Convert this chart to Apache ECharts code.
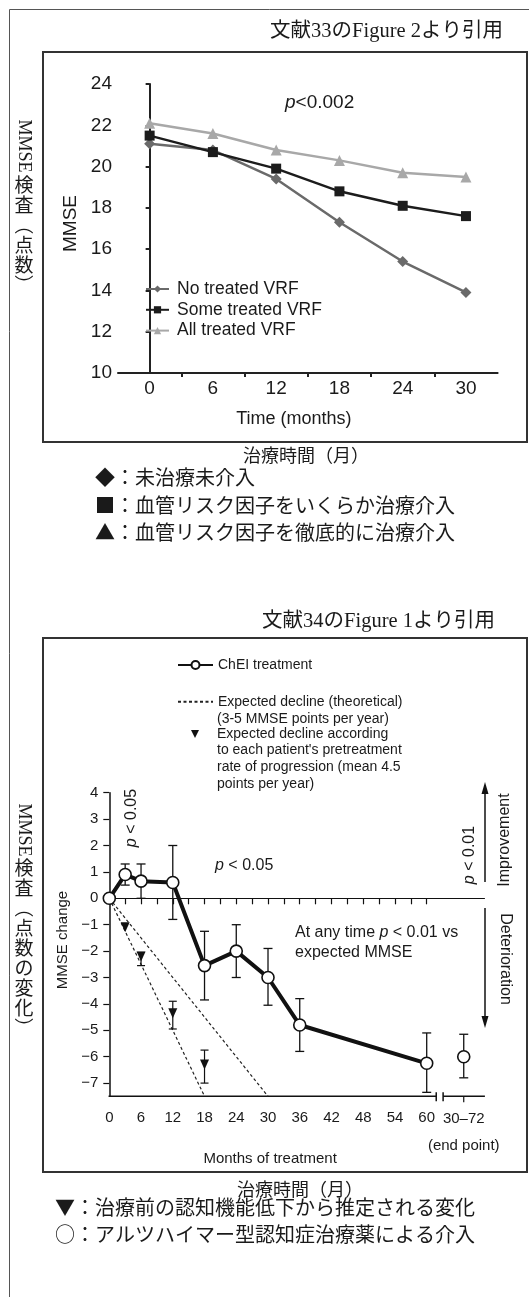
<!DOCTYPE html>
<html lang="ja"><head><meta charset="utf-8"><title>MMSE</title>
<script src="https://cdn.jsdelivr.net/npm/echarts@6.0.0/dist/echarts.min.js"></script>
<style>html,body{margin:0;padding:0;background:#fff;}#chart{width:529px;height:1297px;}</style>
</head><body><div id="chart"></div>
<script>
// ---------- Figure A (文献33 Figure 2) ----------
const monthsA = [0, 6, 12, 18, 24, 30];
const noTreatedVRF = [21.1, 20.8, 19.4, 17.3, 15.4, 13.9];
const someTreatedVRF = [21.5, 20.7, 19.9, 18.8, 18.1, 17.6];
const allTreatedVRF = [22.1, 21.6, 20.8, 20.3, 19.7, 19.5];
const xLabelsA = [0, 6, 12, 18, 24, 30];
const xMinorTicksA = [3, 9, 15, 21, 27];

// ---------- Figure B (文献34 Figure 1) ----------
const monthsB = [0, 3, 6, 12, 18, 24, 30, 36, 60];
const cheiMean = [0, 0.9, 0.65, 0.6, -2.55, -2.0, -3.0, -4.8, -6.25];
const cheiHigh = [null, 1.3, 1.3, 2.0, -1.25, -1.0, -1.9, -3.8, -5.1];
const cheiLow = [null, 0.5, 0.0, -0.8, -3.85, -3.0, -4.05, -5.8, -7.35];
const endPointLabel = ['30–72', '(end point)'];
const endPointMean = [-6.0];
const endPointHigh = [-5.15];
const endPointLow = [-6.8];
const expectedMonths = [3, 6, 12, 18];
const expectedMean = [-1.1, -2.2, -4.35, -6.3];
const expectedHigh = [null, -2.05, -3.9, -5.75];
const expectedLow = [null, -2.55, -4.95, -7.0];
const theoretical5perYear = [[0, 0], [18, -7.5]];
const theoretical3perYear = [[0, 0], [30, -7.5]];
const xLabelsB = [0, 6, 12, 18, 24, 30, 36, 42, 48, 54, 60];
const xTicksB = [0, 3, 6, 9, 12, 15, 18, 21, 24, 27, 30, 33, 36, 39, 42, 45, 48, 51, 54, 57, 60];
const yLabelsB = [-7, -6, -5, -4, -3, -2, -1, 0, 1, 2, 3, 4];

// ---------- layout constants ----------
const END_X = 67;            // axis slot used for the "30–72 (end point)" category
const X_MAX_B = 71, Y_MIN_B = -7.5, Y_MAX_B = 4;
const BREAK_B = [61.8, 63.1];
const SANS = "'Liberation Sans', Arial, Helvetica, sans-serif";
const JP = "'Liberation Serif', 'Noto Sans CJK JP', serif";
const CJK = "'Noto Sans CJK JP', sans-serif";
const INK = '#1a1a1a';

const chart = echarts.init(document.getElementById('chart'), null, {renderer: 'canvas', width: 529, height: 1297});

function errorBarRender(capHalf, width) {
  return function (params, api) {
    const x = api.value(0), lo = api.value(1), hi = api.value(2);
    const p1 = api.coord([x, hi]), p2 = api.coord([x, lo]);
    const st = {stroke: '#111', lineWidth: width, fill: null};
    return {type: 'group', children: [
      {type: 'line', shape: {x1: p1[0], y1: p1[1], x2: p2[0], y2: p2[1]}, style: st},
      {type: 'line', shape: {x1: p1[0] - capHalf, y1: p1[1], x2: p1[0] + capHalf, y2: p1[1]}, style: st},
      {type: 'line', shape: {x1: p2[0] - capHalf, y1: p2[1], x2: p2[0] + capHalf, y2: p2[1]}, style: st}
    ]};
  };
}

function txt(x, y, text, size, family, opts) {
  opts = opts || {};
  const style = {
    text: text, fill: opts.fill || INK, fontSize: size, fontFamily: family,
    align: opts.align || 'left', textAlign: opts.align || 'left',
    verticalAlign: opts.valign || 'middle', textVerticalAlign: opts.valign || 'middle'
  };
  if (opts.lineHeight) style.lineHeight = opts.lineHeight;
  if (opts.rich) style.rich = opts.rich;
  return {type: 'text', x: x, y: y, rotation: opts.rot || 0, silent: true, z: 10, style: style};
}
const italicP = (size) => ({i: {fontStyle: 'italic', fontSize: size, fontFamily: SANS, fill: INK}});

const errB = monthsB.map((m, i) => cheiHigh[i] == null ? null : [m, cheiLow[i], cheiHigh[i]]).filter(Boolean)
  .concat([[END_X, endPointLow[0], endPointHigh[0]]]);
const errExp = expectedMonths.map((m, i) => expectedHigh[i] == null ? null : [m, expectedLow[i], expectedHigh[i]]).filter(Boolean);

const graphics = [
  // frames
  {type: 'polyline', silent: true, shape: {points: [[9.5, 1297], [9.5, 9.5], [529, 9.5]]}, style: {stroke: '#555', lineWidth: 1, fill: null}},
  {type: 'rect', silent: true, shape: {x: 43, y: 52, width: 484, height: 390}, style: {stroke: '#333', lineWidth: 2, fill: null}},
  {type: 'rect', silent: true, shape: {x: 43, y: 638, width: 484, height: 534}, style: {stroke: '#333', lineWidth: 2, fill: null}},
  // titles & captions
  txt(503, 32, '文献33のFigure 2より引用', 20.5, JP, {align: 'right'}),
  txt(495, 622, '文献34のFigure 1より引用', 20.5, JP, {align: 'right'}),
  txt(306, 455, '治療時間（月）', 18, CJK, {align: 'center'}),
  txt(300, 1189, '治療時間（月）', 18, CJK, {align: 'center'}),
  txt(95, 477, '◆：未治療未介入', 20, CJK),
  txt(95, 505, '■：血管リスク因子をいくらか治療介入', 20, CJK),
  txt(95, 532, '▲：血管リスク因子を徹底的に治療介入', 20, CJK),
  txt(55, 1207, '▼：治療前の認知機能低下から推定される変化', 20, CJK),
  txt(55, 1234, '○：アルツハイマー型認知症治療薬による介入', 20, CJK),
  // vertical side labels
  txt(24, 146, 'MMSE', 18, JP, {align: 'center', rot: -Math.PI / 2}),
  txt(24, 175, '検\n査\n︵\n点\n数\n︶', 19, CJK, {align: 'center', valign: 'top', lineHeight: 20}),
  txt(24, 830, 'MMSE', 18, JP, {align: 'center', rot: -Math.PI / 2}),
  txt(24, 858, '検\n査\n︵\n点\n数\nの\n変\n化\n︶', 19, CJK, {align: 'center', valign: 'top', lineHeight: 20}),
  // Figure A annotation
  txt(285, 103, '{i|p}<0.002', 19, SANS, {rich: italicP(19)}),
  // Figure B annotations
  txt(217, 719, '(3-5 MMSE points per year)', 14, SANS),
  txt(217, 750.5, "to each patient's pretreatment", 14, SANS),
  txt(217, 767, 'rate of progression (mean 4.5', 14, SANS),
  txt(217, 784, 'points per year)', 14, SANS),
  txt(132, 818, '{i|p} < 0.05', 16, SANS, {align: 'center', rot: Math.PI / 2, rich: italicP(16)}),
  txt(215, 866, '{i|p} < 0.05', 16, SANS, {rich: italicP(16)}),
  txt(295, 933, 'At any time {i|p} < 0.01 vs', 16, SANS, {rich: italicP(16)}),
  txt(295, 953, 'expected MMSE', 16, SANS),
  txt(470, 855, '{i|p} < 0.01', 16, SANS, {align: 'center', rot: Math.PI / 2, rich: italicP(16)}),
  txt(505, 840, 'Improvement', 16, SANS, {align: 'center', rot: Math.PI / 2}),
  txt(505, 959, 'Deterioration', 16, SANS, {align: 'center', rot: -Math.PI / 2}),
  {type: 'line', silent: true, shape: {x1: 485, y1: 882, x2: 485, y2: 792}, style: {stroke: '#111', lineWidth: 1.5}},
  {type: 'polygon', silent: true, shape: {points: [[485, 782], [481.5, 794], [488.5, 794]]}, style: {fill: '#111'}},
  {type: 'line', silent: true, shape: {x1: 485, y1: 908, x2: 485, y2: 1017}, style: {stroke: '#111', lineWidth: 1.5}},
  {type: 'polygon', silent: true, shape: {points: [[485, 1028], [481.5, 1016], [488.5, 1016]]}, style: {fill: '#111'}}
];

const option = {
  animation: false,
  backgroundColor: '#fff',
  textStyle: {fontFamily: SANS, color: INK},
  grid: [
    {left: 118, top: 84, width: 379.6, height: 289, containLabel: false},
    {left: 109.3, top: 792.7, width: 375.6, height: 303.6, containLabel: false}
  ],
  legend: [
    {data: ['No treated VRF', 'Some treated VRF', 'All treated VRF'], orient: 'vertical', left: 145, top: 280, padding: 0,
     itemWidth: 23, itemHeight: 9, itemGap: 2.8, selectedMode: false,
     textStyle: {fontSize: 17.5, lineHeight: 18, color: INK, fontFamily: SANS, padding: [0, 0, 0, 3]}},
    {data: ['ChEI treatment'], left: 177, top: 658, padding: 0, itemWidth: 35, itemHeight: 10, selectedMode: false,
     textStyle: {fontSize: 14, lineHeight: 14, color: INK, fontFamily: SANS}},
    {data: ['Expected decline (theoretical)'], left: 177, top: 694.7, padding: 0, itemWidth: 35, itemHeight: 10, selectedMode: false,
     itemStyle: {opacity: 0}, textStyle: {fontSize: 14, lineHeight: 14, color: INK, fontFamily: SANS}},
    {data: ['Expected decline according'], left: 191, top: 727, padding: 0, itemWidth: 8, itemHeight: 8, selectedMode: false,
     textStyle: {fontSize: 14, lineHeight: 14, color: INK, fontFamily: SANS, padding: [0, 0, 0, 13]}}
  ],
  xAxis: [
    {gridIndex: 0, type: 'value', min: -3, max: 33,
     name: 'Time (months)', nameLocation: 'middle', nameGap: 37,
     nameTextStyle: {fontSize: 18, color: INK, fontFamily: SANS, padding: [0, 28, 0, 0]},
     axisLine: {lineStyle: {color: '#222', width: 2}},
     axisTick: {customValues: xMinorTicksA, length: 4, lineStyle: {color: '#222', width: 2}},
     axisLabel: {customValues: xLabelsA, fontSize: 19, color: INK, margin: 6},
     splitLine: {show: false}},
    {gridIndex: 1, type: 'value', min: 0, max: X_MAX_B,
     name: 'Months of treatment', nameLocation: 'middle', nameGap: 55,
     nameTextStyle: {fontSize: 15, color: INK, fontFamily: SANS, padding: [0, 54, 0, 0]},
     axisLine: {show: false},
     axisTick: {show: true, customValues: xTicksB, length: 6, lineStyle: {color: '#111', width: 1.2}},
     axisLabel: {customValues: xLabelsB, fontSize: 15, color: INK, margin: 14},
     splitLine: {show: false}}
  ],
  yAxis: [
    {gridIndex: 0, type: 'value', min: 10, max: 24, interval: 2,
     name: 'MMSE', nameLocation: 'middle', nameGap: 36,
     nameTextStyle: {fontSize: 19, color: INK, fontFamily: SANS, padding: [0, 0, 0, 10]},
     axisLine: {show: true, lineStyle: {color: '#222', width: 2}},
     axisTick: {show: true, length: 4, lineStyle: {color: '#222', width: 2}},
     axisLabel: {fontSize: 19, color: INK, margin: 6},
     splitLine: {show: false}},
    {gridIndex: 1, type: 'value', min: Y_MIN_B, max: Y_MAX_B,
     name: 'MMSE change', nameLocation: 'middle', nameGap: 33,
     nameTextStyle: {fontSize: 15, color: INK, fontFamily: SANS, padding: [0, 0, 0, 9]},
     axisLine: {show: true, lineStyle: {color: '#111', width: 1.5}},
     axisTick: {show: true, customValues: yLabelsB, length: 6, lineStyle: {color: '#111', width: 1.2}},
     axisLabel: {customValues: yLabelsB, fontSize: 15, color: INK, margin: 11,
       formatter: v => v < 0 ? '\u2212' + Math.abs(v) : String(v)},
     splitLine: {show: false}}
  ],
  series: [
    // ----- Figure A -----
    {type: 'line', name: 'All treated VRF', xAxisIndex: 0, yAxisIndex: 0,
     data: monthsA.map((m, i) => [m, allTreatedVRF[i]]),
     symbol: 'triangle', symbolSize: 11, lineStyle: {color: '#a8a8a8', width: 2.5}, itemStyle: {color: '#a8a8a8'}, z: 2},
    {type: 'line', name: 'No treated VRF', xAxisIndex: 0, yAxisIndex: 0,
     data: monthsA.map((m, i) => [m, noTreatedVRF[i]]),
     symbol: 'diamond', symbolSize: 11, lineStyle: {color: '#6a6a6a', width: 2.5}, itemStyle: {color: '#6a6a6a'}, z: 3},
    {type: 'line', name: 'Some treated VRF', xAxisIndex: 0, yAxisIndex: 0,
     data: monthsA.map((m, i) => [m, someTreatedVRF[i]]),
     symbol: 'rect', symbolSize: 10, lineStyle: {color: '#1c1c1c', width: 2.5}, itemStyle: {color: '#1c1c1c'}, z: 4},
    // ----- Figure B -----
    {type: 'custom', name: 'axisB', xAxisIndex: 1, yAxisIndex: 1, silent: true, clip: false, z: 1,
     data: [[END_X, Y_MIN_B]],
     renderItem: function (params, api) {
       const a = api.coord([0, Y_MIN_B]), b = api.coord([BREAK_B[0], Y_MIN_B]);
       const c = api.coord([BREAK_B[1], Y_MIN_B]), d = api.coord([X_MAX_B, Y_MIN_B]);
       const e = api.coord([api.value(0), Y_MIN_B]);
       const st = {stroke: '#111', lineWidth: 1.5};
       const ts = (t, y) => ({type: 'text', x: e[0], y: y, style: {text: t, fill: INK, fontSize: 15, fontFamily: SANS,
         align: 'center', textAlign: 'center', verticalAlign: 'middle', textVerticalAlign: 'middle'}});
       return {type: 'group', children: [
         {type: 'line', shape: {x1: a[0] - 0.75, y1: a[1], x2: b[0], y2: b[1]}, style: st},
         {type: 'line', shape: {x1: c[0], y1: c[1], x2: d[0], y2: d[1]}, style: st},
         {type: 'line', shape: {x1: b[0], y1: b[1] - 4, x2: b[0], y2: b[1] + 5}, style: st},
         {type: 'line', shape: {x1: c[0], y1: c[1] - 4, x2: c[0], y2: c[1] + 5}, style: st},
         {type: 'line', shape: {x1: e[0], y1: e[1], x2: e[0], y2: e[1] + 6}, style: {stroke: '#111', lineWidth: 1.2}},
         ts(endPointLabel[0], e[1] + 23),
         ts(endPointLabel[1], e[1] + 50)
       ]};
     }},
    {type: 'line', name: 'Expected decline (theoretical)', xAxisIndex: 1, yAxisIndex: 1,
     data: theoretical5perYear, symbol: 'none', lineStyle: {color: '#222', width: 1.2, type: [3, 2.5]}, itemStyle: {color: '#222'}, z: 2},
    {type: 'line', name: 'Expected decline (theoretical)', xAxisIndex: 1, yAxisIndex: 1,
     data: theoretical3perYear, symbol: 'none', lineStyle: {color: '#222', width: 1.2, type: [3, 2.5]}, itemStyle: {color: '#222'}, z: 2},
    {type: 'custom', name: 'errExpected', xAxisIndex: 1, yAxisIndex: 1, silent: true, z: 3,
     data: errExp, encode: {x: 0, y: [1, 2]}, renderItem: errorBarRender(4, 1.2)},
    {type: 'scatter', name: 'Expected decline according', xAxisIndex: 1, yAxisIndex: 1,
     data: expectedMonths.map((m, i) => [m, expectedMean[i]]),
     symbol: 'path://M0,0 L10,0 L5,10 Z', symbolSize: [9, 10], itemStyle: {color: '#111', opacity: 1}, z: 4},
    {type: 'custom', name: 'errChEI', xAxisIndex: 1, yAxisIndex: 1, silent: true, z: 3,
     data: errB, encode: {x: 0, y: [1, 2]}, renderItem: errorBarRender(4.5, 1.3)},
    {type: 'line', name: 'ChEI treatment', xAxisIndex: 1, yAxisIndex: 1,
     data: monthsB.map((m, i) => [m, cheiMean[i]]),
     symbol: 'circle', symbolSize: 12, showAllSymbol: true,
     lineStyle: {color: '#111', width: 4}, itemStyle: {color: '#fff', borderColor: '#111', borderWidth: 1.6}, z: 5,
     markLine: {silent: true, symbol: 'none', label: {show: false}, animation: false,
       lineStyle: {color: '#111', width: 1, type: 'solid'}, data: [{yAxis: 0}]}},
    {type: 'scatter', name: 'ChEI end point', xAxisIndex: 1, yAxisIndex: 1,
     data: [[END_X, endPointMean[0]]],
     symbol: 'circle', symbolSize: 12, itemStyle: {color: '#fff', borderColor: '#111', borderWidth: 1.6, opacity: 1}, z: 5}
  ],
  graphic: {elements: graphics}
};
chart.setOption(option);
</script></body></html>
